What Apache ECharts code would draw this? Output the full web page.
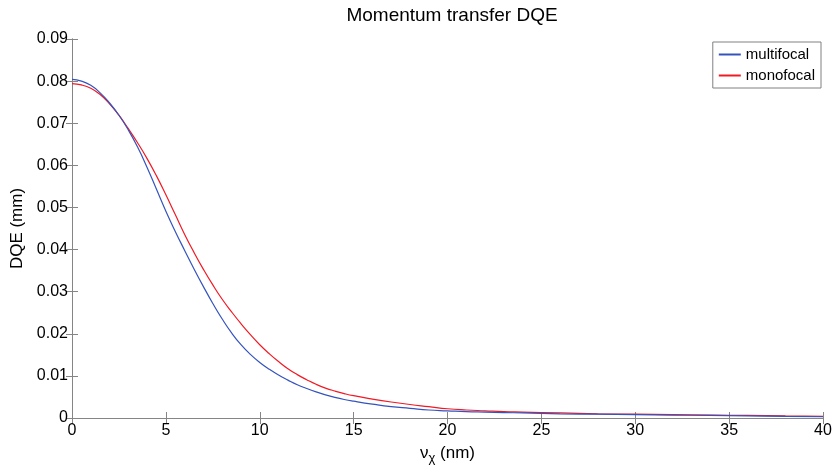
<!DOCTYPE html>
<html>
<head>
<meta charset="utf-8">
<script src="https://cdn.jsdelivr.net/npm/echarts@6/dist/echarts.min.js"></script>
<style>html,body{margin:0;padding:0;background:#fff}#c{width:837px;height:470px}</style>
</head>
<body>
<div id="c"></div>
<script>
var xs = [0,0.5,1,1.5,2,2.5,3,3.5,4,4.5,5,5.5,6,6.5,7,7.5,8,8.5,9,9.5,10,10.5,11,11.5,12,12.5,13,13.5,14,14.5,15,16,17,18,19,20,21,22,23,24,26,28,30,32,34,36,38,40];
var multifocal = [0.0804,0.0800,0.0790,0.0772,0.0748,0.0719,0.0684,0.0643,0.0595,0.0543,0.0491,0.0443,0.0398,0.0354,0.0312,0.0272,0.0235,0.0202,0.0174,0.0151,0.0132,0.0116,0.0102,0.0090,0.0079,0.0070,0.0062,0.0055,0.0049,0.0044,0.0040,0.0033,0.0027,0.0023,0.0019,0.0017,0.0015,0.0014,0.0013,0.0012,0.0010,0.0009,0.0008,0.0007,0.0006,0.0005,0.0004,0.0003];
var monofocal = [0.0794,0.0791,0.0783,0.0768,0.0746,0.0719,0.0687,0.0653,0.0616,0.0575,0.0530,0.0483,0.0436,0.0393,0.0353,0.0316,0.0282,0.0252,0.0224,0.0198,0.0174,0.0153,0.0134,0.0117,0.0103,0.0091,0.0080,0.0071,0.0064,0.0058,0.0053,0.0045,0.0038,0.0032,0.0027,0.0022,0.0019,0.0017,0.0015,0.0014,0.0012,0.0010,0.0009,0.0008,0.0007,0.0006,0.0005,0.0004];
var seriesNames = ['multifocal','monofocal'];
var titleText = 'Momentum transfer DQE';
var yName = 'DQE (mm)';

function pairs(v){ return xs.map(function(x,i){ return [x, v[i]]; }); }
var FONT = 'Liberation Sans';
var axisCol = '#858585';
var chart = echarts.init(document.getElementById('c'));
chart.setOption({
  animation: false,
  backgroundColor: '#fff',
  textStyle: {fontFamily: FONT},
  title: {text: titleText, left: 447, textAlign: 'center', top: 1,
    textStyle: {fontFamily: FONT, fontSize: 19, fontWeight: 'normal', color: '#000'}},
  grid: {left: 72, right: 14, top: 39, bottom: 52, containLabel: false},
  legend: {
    data: seriesNames, orient: 'vertical', right: 16, top: 42,
    backgroundColor: '#fff', borderColor: '#808080', borderWidth: 1, borderRadius: 0,
    padding: [5, 6, 5, 6], itemGap: 6, itemWidth: 22, itemHeight: 2, icon: 'rect',
    textStyle: {fontFamily: FONT, fontSize: 15, color: '#000'}
  },
  xAxis: [{
    type: 'value', min: 0, max: 40, interval: 5, position: 'bottom',
    name: '{a|ν}{b|χ}{a| (nm)}', nameLocation: 'middle', nameGap: 24,
    nameTextStyle: {rich: {a: {fontFamily: FONT, fontSize: 17, color: '#000'},
      b: {fontFamily: FONT, fontSize: 13, color: '#000', verticalAlign: 'bottom', padding: [10,0,0,0]}}},
    axisLine: {lineStyle: {color: axisCol, width: 1}},
    axisTick: {inside: true, length: 6, lineStyle: {color: axisCol}},
    axisLabel: {fontFamily: FONT, fontSize: 16, color: '#000', margin: 5},
    splitLine: {show: false}
  }, {
    type: 'value', min: 0, max: 40, interval: 5, position: 'top',
    axisLine: {show: true, lineStyle: {color: axisCol, width: 1}},
    axisTick: {inside: true, length: 6, lineStyle: {color: axisCol}},
    axisLabel: {show: false}, splitLine: {show: false}
  }],
  yAxis: [{
    type: 'value', min: 0, max: 0.09, interval: 0.01, position: 'left',
    name: yName, nameLocation: 'middle', nameGap: 42,
    nameTextStyle: {fontFamily: FONT, fontSize: 17, color: '#000'},
    axisLine: {show: true, lineStyle: {color: axisCol, width: 1}},
    axisTick: {show: true, inside: true, length: 6, lineStyle: {color: axisCol}},
    axisLabel: {fontFamily: FONT, fontSize: 16, color: '#000', margin: 4,
      formatter: function(v){ return v === 0 ? '0' : v.toFixed(2); }},
    splitLine: {show: false}
  }, {
    type: 'value', min: 0, max: 0.09, interval: 0.01, position: 'right',
    axisLine: {show: true, lineStyle: {color: axisCol, width: 1}},
    axisTick: {show: true, inside: true, length: 6, lineStyle: {color: axisCol}},
    axisLabel: {show: false}, splitLine: {show: false}
  }],
  series: [{
    name: seriesNames[0], type: 'line', smooth: 0.5, showSymbol: false, symbol: 'none',
    data: pairs(multifocal), color: '#3553bd',
    lineStyle: {width: 1.2, color: '#3553bd'}, z: 3
  }, {
    name: seriesNames[1], type: 'line', smooth: 0.5, showSymbol: false, symbol: 'none',
    data: pairs(monofocal), color: '#f01a24',
    lineStyle: {width: 1.2, color: '#f01a24'}, z: 2
  }]
});
</script>
</body>
</html>
